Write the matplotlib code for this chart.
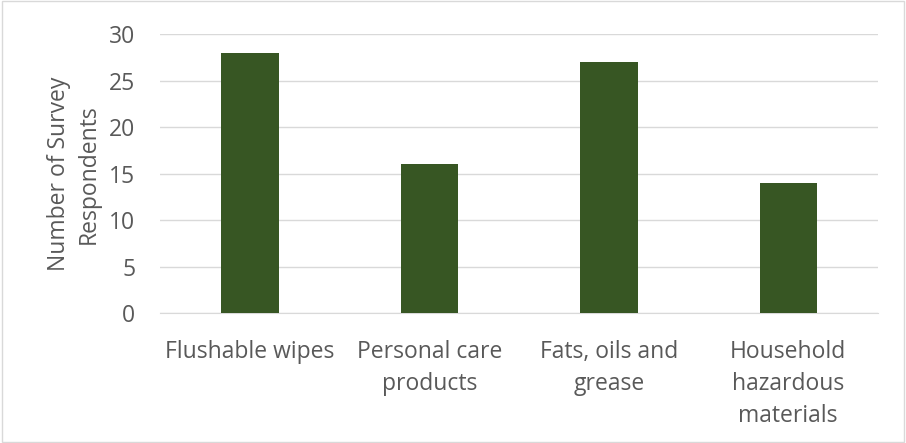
import matplotlib
matplotlib.use("Agg")
import matplotlib.pyplot as plt
from matplotlib.patches import Rectangle

categories = ["Flushable wipes", "Personal care\nproducts", "Fats, oils and\ngrease", "Household\nhazardous\nmaterials"]
values = [28, 16, 27, 14]
yticks = [0, 5, 10, 15, 20, 25, 30]

plt.rcParams['font.family'] = ['Open Sans', 'DejaVu Sans']
fig = plt.figure(figsize=(9.06, 4.43), dpi=100)
ax = fig.add_axes([0.177, 0.293, 0.792, 0.630])
x = range(len(categories))
ax.bar(x, values, width=0.32, color="#375623", zorder=3)
ax.set_ylim(0, 30)
ax.set_xlim(-0.5, len(categories) - 0.5)
ax.set_yticks(yticks)
ax.set_xticks(list(x))
ax.set_xticklabels(categories, fontsize=16.5, color="#595959", linespacing=1.45)
ax.tick_params(axis='y', labelsize=16.5, labelcolor="#595959", length=0, pad=18)
ax.tick_params(axis='x', length=0, pad=19)
ax.grid(axis='y', color="#D9D9D9", linewidth=1, zorder=0)
for s in ["top", "right", "left"]:
    ax.spines[s].set_visible(False)
ax.spines["bottom"].set_color("#D9D9D9")
ax.set_ylabel("Number of Survey\nRespondents", fontsize=16.5, color="#595959", labelpad=6, linespacing=1.3)
fig.patches.append(Rectangle((0.002, 0.002), 0.996, 0.996, transform=fig.transFigure,
                             fill=False, edgecolor="#D9D9D9", linewidth=1))
fig.savefig("out.png", dpi=100)
